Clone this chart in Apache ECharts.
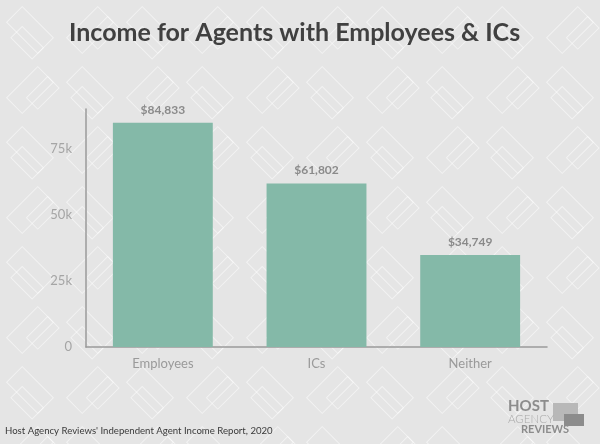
<!DOCTYPE html>
<html>
<head>
<meta charset="utf-8">
<script src="https://cdn.jsdelivr.net/npm/echarts@6/dist/echarts.min.js"></script>
<style>
  html, body { margin: 0; padding: 0; }
  #chart { width: 600px; height: 444px; }
</style>
</head>
<body>
<div id="chart"></div>
<script>
const categories = ['Employees', 'ICs', 'Neither'];
const incomes = [84833, 61802, 34749];
const yTicks = [0, 25000, 50000, 75000];

// background tile: faint outlined diamonds like the original artwork
function makePattern() {
    const c = document.createElement('canvas');
    c.width = 120;
    c.height = 120;
    const ctx = c.getContext('2d');
    ctx.fillStyle = '#e5e5e5';
    ctx.fillRect(0, 0, 120, 120);
    ctx.strokeStyle = 'rgba(255,255,255,0.5)';
    ctx.lineWidth = 1;
    const boxes = [[30, 30], [90, 90], [90, 30], [30, 90]];
    boxes.forEach(function (b, i) {
        ctx.save();
        ctx.translate(b[0], b[1]);
        ctx.rotate(Math.PI / 4 * (i < 2 ? 1 : -1));
        ctx.strokeRect(-22, -11, 44, 22);
        ctx.strokeRect(-8, 3, 30, 16);
        ctx.restore();
    });
    return c;
}

const dom = document.getElementById('chart');
const myChart = echarts.init(dom);

const option = {
    backgroundColor: { image: makePattern(), repeat: 'repeat' },
    animation: false,
    title: {
        text: 'Income for Agents with Employees & ICs',
        left: 64,
        top: 15,
        textStyle: {
            fontFamily: 'Lato',
            fontWeight: 'bold',
            fontSize: 25,
            color: '#404040'
        }
    },
    grid: {
        left: 86,
        right: 53,
        top: 109,
        bottom: 97
    },
    xAxis: {
        type: 'category',
        data: categories,
        axisLine: { lineStyle: { color: '#9a9a9a', width: 1.5 } },
        axisTick: { show: false },
        axisLabel: {
            color: '#9a9a9a',
            fontFamily: 'Lato',
            fontSize: 13,
            margin: 10
        }
    },
    yAxis: {
        type: 'value',
        min: 0,
        max: 90000,
        interval: 25000,
        axisLine: { show: true, lineStyle: { color: '#9a9a9a', width: 1.5 } },
        axisTick: { show: false },
        splitLine: { show: false },
        axisLabel: {
            color: '#a5a5a5',
            fontFamily: 'Lato',
            fontSize: 13,
            margin: 14,
            showMaxLabel: false,
            formatter: function (v) {
                if (yTicks.indexOf(v) < 0) return '';
                return v === 0 ? '0' : (v / 1000) + 'k';
            }
        }
    },
    series: [{
        type: 'bar',
        data: incomes,
        barWidth: '65%',
        itemStyle: { color: '#84b9a8' },
        label: {
            show: true,
            position: 'top',
            distance: 7,
            color: '#8a8a8a',
            fontFamily: 'Lato',
            fontWeight: 'bold',
            fontSize: 12,
            formatter: function (p) {
                return '$' + p.value.toLocaleString('en-US');
            }
        }
    }],
    graphic: [
        {
            type: 'text',
            left: 5,
            top: 426,
            style: {
                text: "Host Agency Reviews' Independent Agent Income Report, 2020",
                fill: '#3a3a3a',
                font: '9.6px Lato'
            }
        },
        // logo
        { type: 'rect', left: 553, top: 403, shape: { width: 25, height: 18 }, style: { fill: '#b8b8b8' } },
        { type: 'rect', left: 564, top: 414, shape: { width: 20, height: 12 }, style: { fill: '#8c8c8c' } },
        { type: 'text', left: 508, top: 399, style: { text: 'HOST', fill: '#8c8c8c', font: 'bold 15px Lato' } },
        { type: 'text', left: 508, top: 413, style: { text: 'AGENCY', fill: '#a9a9a9', font: '300 11.5px Lato' } },
        { type: 'text', left: 521, top: 424, style: { text: 'REVIEWS', fill: '#8c8c8c', font: 'bold 11px Lato' } }
    ]
};

myChart.setOption(option);
</script>
</body>
</html>
